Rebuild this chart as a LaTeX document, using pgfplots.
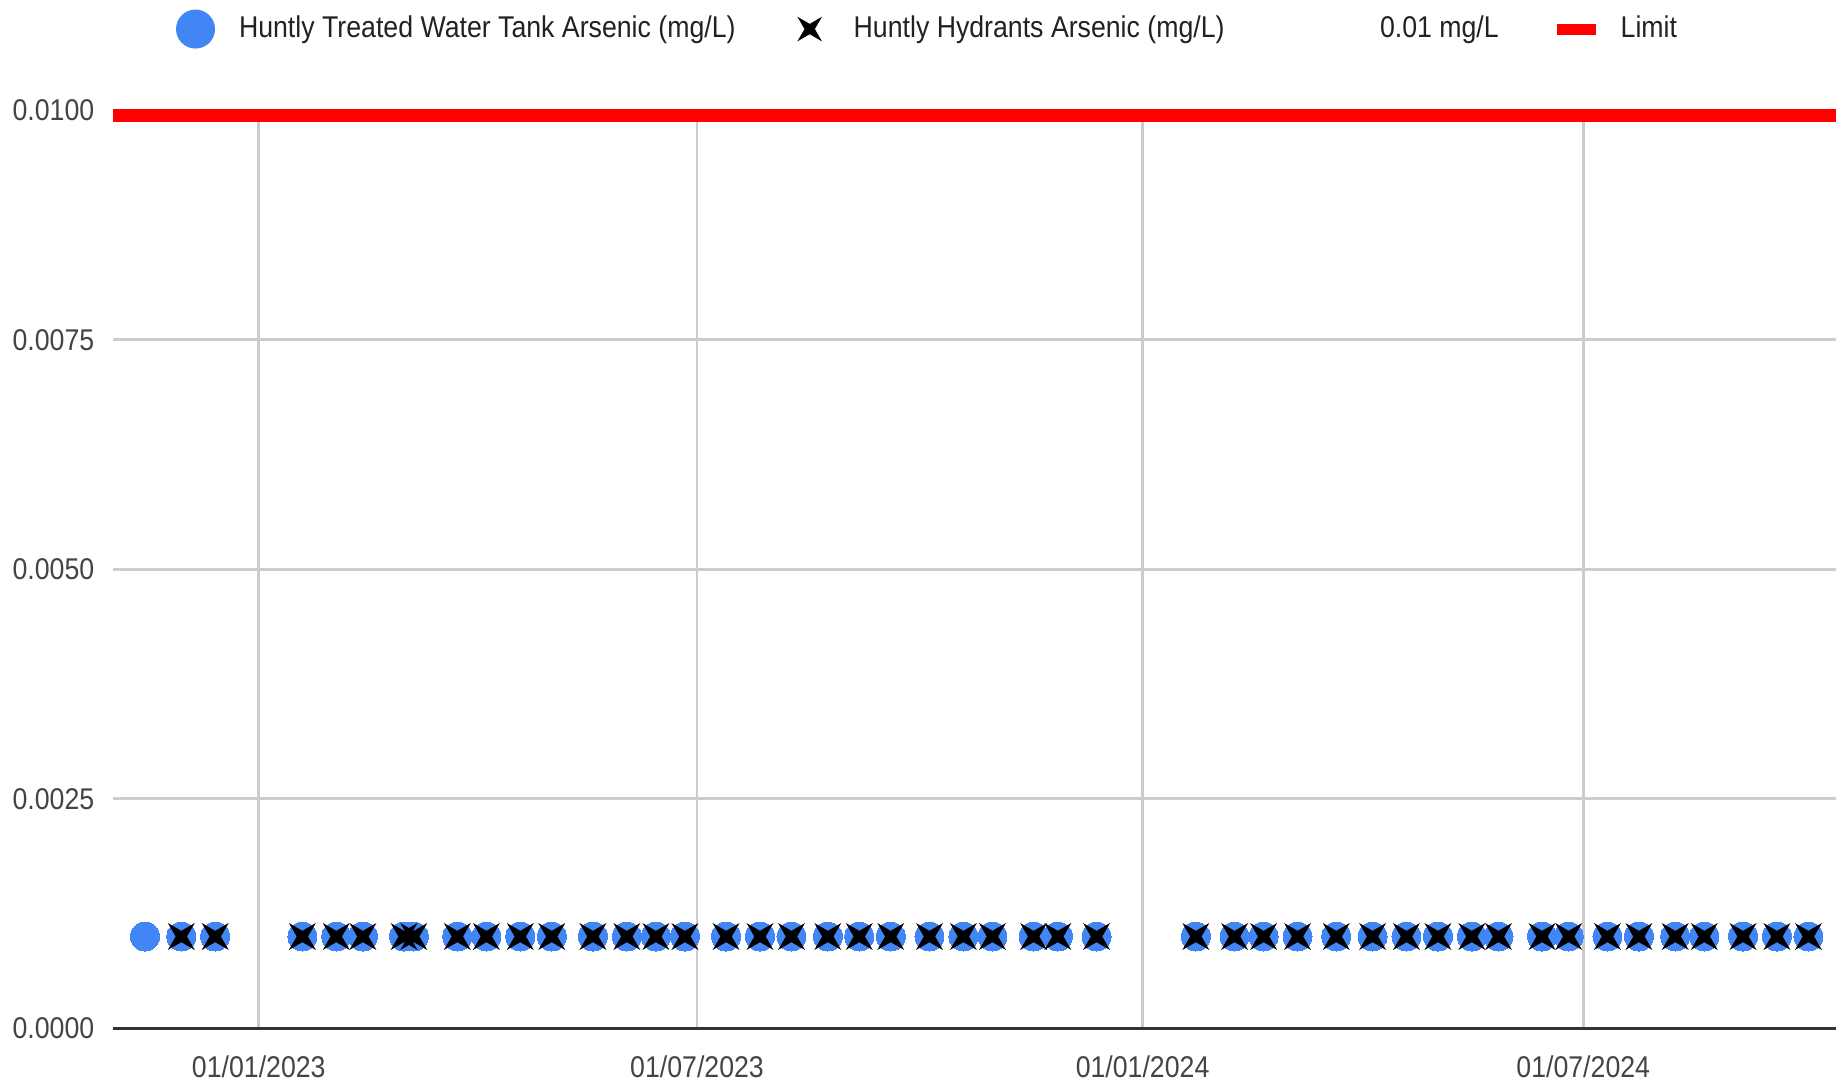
\documentclass[border=0pt]{standalone}
\usepackage{fontspec}
\setmainfont{Liberation Sans}[FakeStretch=0.89]
\usepackage{pgfplots}
\usepackage{pgfplotstable}
\pgfplotsset{compat=1.18}
\definecolor{gblue}{HTML}{4285F4}
\definecolor{gridgray}{HTML}{CCCCCC}
\definecolor{axisgray}{HTML}{333333}
\definecolor{ticktext}{HTML}{444444}
\definecolor{legtext}{HTML}{222222}
\definecolor{limitred}{HTML}{FF0000}

\pgfdeclareplotmark{xstar}{%
  \pgfpathmoveto{\pgfqpoint{\pgfplotmarksize}{\pgfplotmarksize}}%
  \pgfpathlineto{\pgfqpoint{0pt}{0.42\pgfplotmarksize}}%
  \pgfpathlineto{\pgfqpoint{-\pgfplotmarksize}{\pgfplotmarksize}}%
  \pgfpathlineto{\pgfqpoint{-0.42\pgfplotmarksize}{0pt}}%
  \pgfpathlineto{\pgfqpoint{-\pgfplotmarksize}{-\pgfplotmarksize}}%
  \pgfpathlineto{\pgfqpoint{0pt}{-0.42\pgfplotmarksize}}%
  \pgfpathlineto{\pgfqpoint{\pgfplotmarksize}{-\pgfplotmarksize}}%
  \pgfpathlineto{\pgfqpoint{0.42\pgfplotmarksize}{0pt}}%
  \pgfpathclose
  \pgfusepathqfill}

% x = days since 01/01/2023
\pgfplotstableread{
d v
-47 0.001
-32 0.001
-18 0.001
18 0.001
32 0.001
43 0.001
60 0.001
64 0.001
82 0.001
94 0.001
108 0.001
121 0.001
138 0.001
152 0.001
164 0.001
176 0.001
193 0.001
207 0.001
220 0.001
235 0.001
248 0.001
261 0.001
277 0.001
291 0.001
303 0.001
320 0.001
330 0.001
346 0.001
387 0.001
403 0.001
415 0.001
429 0.001
445 0.001
460 0.001
474 0.001
487 0.001
501 0.001
512 0.001
530 0.001
541 0.001
557 0.001
570 0.001
585 0.001
597 0.001
613 0.001
627 0.001
640 0.001
}\tank

\pgfplotstableread{
d v
-32 0.001
-18 0.001
18 0.001
32 0.001
43 0.001
60 0.001
64 0.001
82 0.001
94 0.001
108 0.001
121 0.001
138 0.001
152 0.001
164 0.001
176 0.001
193 0.001
207 0.001
220 0.001
235 0.001
248 0.001
261 0.001
277 0.001
291 0.001
303 0.001
320 0.001
330 0.001
346 0.001
387 0.001
403 0.001
415 0.001
429 0.001
445 0.001
460 0.001
474 0.001
487 0.001
501 0.001
512 0.001
530 0.001
541 0.001
557 0.001
570 0.001
585 0.001
597 0.001
613 0.001
627 0.001
640 0.001
}\hydrant

\begin{document}
\begin{tikzpicture}
\useasboundingbox (0,0) rectangle (550.8pt,324.9pt);
\begin{axis}[
  at={(33.99pt,16.41pt)}, anchor=south west,
  scale only axis, width=516.81pt, height=275.4pt,
  xmin=-60.09, xmax=651.4, ymin=0, ymax=0.01,
  clip=false,
  xtick={0,181,365,547},
  xticklabels={01/01/2023,01/07/2023,01/01/2024,01/07/2024},
  ytick={0,0.0025,0.005,0.0075,0.01},
  yticklabels={0.0000,0.0025,0.0050,0.0075,0.0100},
  scaled y ticks=false, scaled x ticks=false,
  xmajorgrids, ymajorgrids,
  grid style={draw=gridgray, line width=0.8pt},
  major tick length=0pt,
  axis x line*=bottom, axis y line*=left,
  x axis line style={draw=axisgray, line width=0.9pt, -},
  y axis line style={draw=none},
  tick label style={font=\fontsize{9pt}{11pt}\selectfont, text=ticktext},
  xticklabel style={anchor=base, inner sep=0pt, yshift=-14.9pt},
  yticklabel style={anchor=east, inner sep=0pt, xshift=-5.5pt},
  legend columns=4,
  legend style={at={(axis description cs:0.0364,1.0885)}, anchor=west,
    draw=none, fill=none, inner sep=0pt, outer sep=0pt, column sep=0pt,
    font=\fontsize{9pt}{11pt}\selectfont, text=legtext,
    nodes={inner sep=0pt, outer sep=0pt}},
]
\addplot[only marks, mark=*, mark size=4.35pt, mark options={draw=gblue, fill=gblue, line width=0pt},
  legend image code/.code={\path[draw=none, fill=none] (0,-6pt) rectangle (18.9pt,6pt);
    \fill[gblue, draw=none] (5.85pt,0) circle (5.85pt);}]
  table[x=d, y=v]{\tank};
\addlegendentry{\makebox[165.2pt][l]{Huntly Treated Water Tank Arsenic (mg/L)}}

\addplot[only marks, mark=xstar, mark size=4.05pt, mark options={draw=none, fill=black},
  legend image code/.code={\path[draw=none, fill=none] (0,-6pt) rectangle (19.2pt,6pt);
    \fill[black, draw=none] (9.7pt,3.7pt) -- (6pt,1.55pt) -- (2.3pt,3.7pt) -- (4.45pt,0pt) -- (2.3pt,-3.7pt) -- (6pt,-1.55pt) -- (9.7pt,-3.7pt) -- (7.55pt,0pt) -- cycle;}]
  table[x=d, y=v]{\hydrant};
\addlegendentry{\makebox[138.9pt][l]{Huntly Hydrants Arsenic (mg/L)}}

\addlegendimage{legend image code/.code={\path[draw=none, fill=none] (0,-6pt) rectangle (19.0pt,6pt);}}
\addlegendentry{\makebox[53.0pt][l]{0.01 mg/L}}

\addplot[draw=limitred, line width=3.9pt, yshift=-1.65pt, line cap=butt,
  legend image code/.code={\path[draw=none, fill=none] (0,-4.35pt) rectangle (19.2pt,7.65pt);
    \fill[limitred, draw=none] (0pt,0pt) rectangle (11.7pt,3.1pt);}]
  coordinates {(-60.09,0.01) (651.4,0.01)};
\addlegendentry{Limit}
\end{axis}
\end{tikzpicture}
\end{document}
